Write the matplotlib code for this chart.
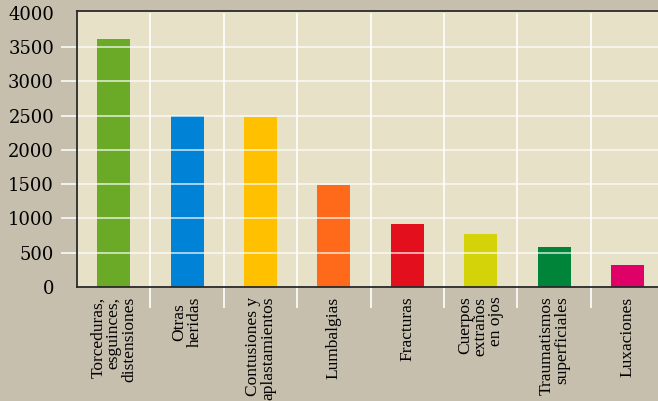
import matplotlib.pyplot as plt

categories = [
    "Torceduras,\nesguinces,\ndistensiones",
    "Otras\nheridas",
    "Contusiones y\naplastamientos",
    "Lumbalgias",
    "Fracturas",
    "Cuerpos\nextraños\nen ojos",
    "Traumatismos\nsuperficiales",
    "Luxaciones",
]
values = [3615, 2490, 2480, 1490, 915, 770, 580, 320]
colors = ["#6aaa27", "#0083d6", "#ffc000", "#ff6a1a",
          "#e30f1d", "#d4d30a", "#00843a", "#df0068"]
yticks = [0, 500, 1000, 1500, 2000, 2500, 3000, 3500, 4000]
label_align = ["right", "center", "right", "right", "right", "right", "right", "right"]

fig = plt.figure(figsize=(6.58, 4.01), dpi=100, facecolor="#c6bfae")
ax = fig.add_axes([77 / 658, 114 / 401, 8 * 73.4 / 658, 276.3 / 401])
ax.set_facecolor("#e7e1c7")

x = range(len(categories))
ax.bar(x, values, width=0.45, color=colors, zorder=2)

ax.set_xlim(-0.5, len(categories) - 0.5)
ax.set_ylim(0, 4028)

# horizontal white grid, drawn over the bars
ax.set_yticks(yticks)
ax.set_yticklabels([str(v) for v in yticks], family="DejaVu Serif", fontsize=13)
ax.yaxis.grid(True, color="white", linewidth=1.2, alpha=0.75, zorder=3)
ax.set_axisbelow(False)
ax.tick_params(axis="y", length=11.5, width=1.1, color="white", pad=5)
for t in ax.yaxis.get_major_ticks():
    if t.get_loc() in (0, 4000):
        t.tick1line.set_visible(False)
        t.gridline.set_visible(False)

# vertical separators that run below the axis
ax.vlines([i + 0.5 for i in range(len(categories) - 1)], -306, 4000,
          color="white", linewidth=1.2, clip_on=False, zorder=3)

ax.set_xticks(list(x))
ax.set_xticklabels(categories, rotation=90, va="top", ha="center",
                   family="Liberation Serif", fontsize=12.5, linespacing=0.95)
for lab, al in zip(ax.get_xticklabels(), label_align):
    lab.set_multialignment(al)
ax.tick_params(axis="x", length=0, pad=7)

for side in ["left", "bottom", "top"]:
    ax.spines[side].set_color("#2a2a2a")
    ax.spines[side].set_linewidth(1.3)
    ax.spines[side].set_zorder(4)
ax.spines["right"].set_visible(False)

fig.savefig("out.png", dpi=100, facecolor=fig.get_facecolor())
